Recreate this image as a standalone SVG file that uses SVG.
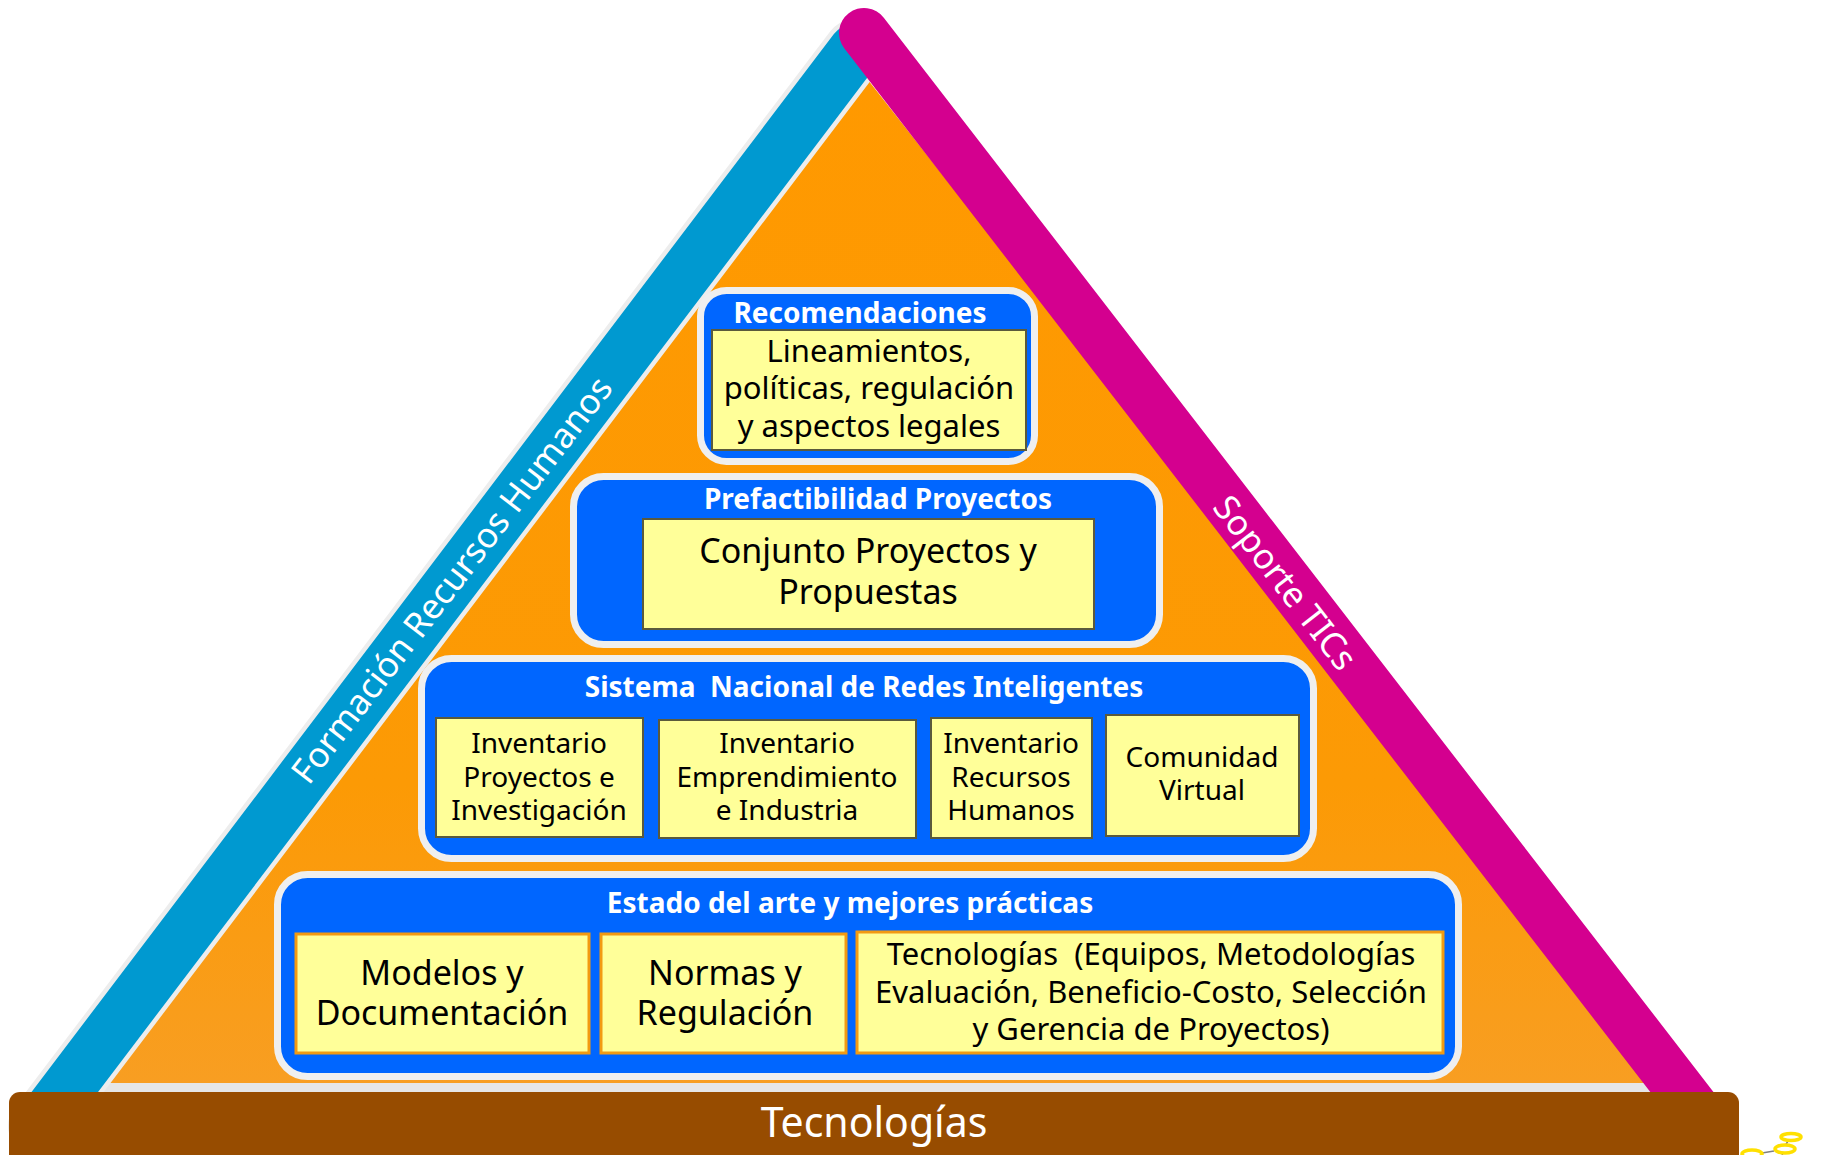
<svg xmlns="http://www.w3.org/2000/svg" width="1845" height="1155" viewBox="0 0 1845 1155">
<defs>
<linearGradient id="og" x1="0" y1="0" x2="0" y2="1">
<stop offset="0" stop-color="#FF9900"/>
<stop offset="0.7" stop-color="#FC9A05"/>
<stop offset="1" stop-color="#F89E22"/>
</linearGradient>
<style>
text{font-family:"Noto Sans","Open Sans","DejaVu Sans",sans-serif;text-anchor:middle;}
.tier{fill:#0066FF;stroke:#EFEFEF;stroke-width:7;}
.title{fill:#FFFFFF;font-weight:bold;font-size:28px;}
.box{fill:#FFFF99;stroke:#5A5A3C;stroke-width:2;}
.boxo{fill:#FFFF99;stroke:#F29A12;stroke-width:3;}
.t{fill:#000000;}
.side{fill:#FFFFFF;font-size:35px;}
.pre{white-space:pre;}
</style>
</defs>
<rect width="1845" height="1155" fill="#FFFFFF"/>
<g id="pyramid">
<polygon points="868,80 96,1086 1660,1086" fill="url(#og)"/>
<rect x="95" y="1083" width="1560" height="10" fill="#E6E6E6"/>
</g>
<g id="band-left">
<line x1="39" y1="1126" x2="855" y2="50" stroke="#EDEDED" stroke-width="62" stroke-linecap="round"/>
<line x1="39" y1="1126" x2="855" y2="50" stroke="#0099D0" stroke-width="53" stroke-linecap="round"/>
<text class="side" transform="translate(452,580) rotate(-52.5)" y="12">Formación Recursos Humanos</text>
</g>
<g id="band-right">
<line x1="864" y1="33" x2="1712" y2="1131" stroke="#D4008F" stroke-width="50" stroke-linecap="round"/>
<text class="side" transform="translate(1285,583) rotate(52.3)" y="12">Soporte TICs</text>
</g>
<g id="base">
<rect x="9" y="1092" width="1730" height="80" rx="11" fill="#974C00"/>
<text x="874" y="1137" font-size="41" fill="#FFFFFF">Tecnologías</text>
<g id="clipart-fragment" fill="#FFFFFF" stroke="#FFE000" stroke-width="3.5">
<line x1="1788" y1="1141" x2="1785" y2="1146" stroke="#808080" stroke-width="1.5"/>
<line x1="1762" y1="1153" x2="1774" y2="1151" stroke="#808080" stroke-width="1.5"/>
<line x1="1783" y1="1153" x2="1781" y2="1158" stroke="#808080" stroke-width="1.5"/>
<ellipse cx="1791" cy="1137" rx="10" ry="3.5"/>
<ellipse cx="1785" cy="1149" rx="10" ry="4"/>
<ellipse cx="1752" cy="1154" rx="10" ry="4"/>
</g>
</g>
<g id="tier-recomendaciones">
<rect class="tier" x="700.5" y="290.5" width="334" height="171" rx="26"/>
<text class="title" x="860" y="323">Recomendaciones</text>
<rect class="box" x="712" y="330" width="314" height="120"/>
<text class="t" font-size="31"><tspan x="869" y="362">Lineamientos,</tspan><tspan x="869" y="399">políticas, regulación</tspan><tspan x="869" y="437">y aspectos legales</tspan></text>
</g>
<g id="tier-prefactibilidad">
<rect class="tier" x="573.5" y="476.5" width="586" height="168" rx="30"/>
<text class="title" x="878" y="509">Prefactibilidad Proyectos</text>
<rect class="box" x="643" y="519" width="451" height="110"/>
<text class="t" font-size="34"><tspan x="868" y="563">Conjunto Proyectos y</tspan><tspan x="868" y="604">Propuestas</tspan></text>
</g>
<g id="tier-sistema">
<rect class="tier" x="421.5" y="658.5" width="892" height="200" rx="30"/>
<text class="title pre" x="864" y="697">Sistema  Nacional de Redes Inteligentes</text>
<g id="inv-proyectos">
<rect class="box" x="436" y="718" width="207" height="119"/>
<text class="t" font-size="28"><tspan x="539" y="753">Inventario</tspan><tspan x="539" y="787">Proyectos e</tspan><tspan x="539" y="820">Investigación</tspan></text>
</g>
<g id="inv-emprendimiento">
<rect class="box" x="659" y="720" width="257" height="118"/>
<text class="t" font-size="28"><tspan x="787" y="753">Inventario</tspan><tspan x="787" y="787">Emprendimiento</tspan><tspan x="787" y="820">e Industria</tspan></text>
</g>
<g id="inv-rrhh">
<rect class="box" x="931" y="718" width="161" height="120"/>
<text class="t" font-size="28"><tspan x="1011" y="753">Inventario</tspan><tspan x="1011" y="787">Recursos</tspan><tspan x="1011" y="820">Humanos</tspan></text>
</g>
<g id="comunidad">
<rect class="box" x="1106" y="715" width="193" height="121"/>
<text class="t" font-size="28"><tspan x="1202" y="767">Comunidad</tspan><tspan x="1202" y="800">Virtual</tspan></text>
</g>
</g>
<g id="tier-estado">
<rect class="tier" x="277.5" y="874.5" width="1181" height="202" rx="30"/>
<text class="title" x="850" y="913">Estado del arte y mejores prácticas</text>
<g id="modelos">
<rect class="boxo" x="296" y="934" width="293" height="119"/>
<text class="t" font-size="34"><tspan x="442" y="985">Modelos y</tspan><tspan x="442" y="1025">Documentación</tspan></text>
</g>
<g id="normas">
<rect class="boxo" x="601" y="934" width="245" height="119"/>
<text class="t" font-size="34"><tspan x="725" y="985">Normas y</tspan><tspan x="725" y="1025">Regulación</tspan></text>
</g>
<g id="tecnologias-box">
<rect class="boxo" x="857" y="932" width="586" height="121"/>
<text class="t pre" font-size="31"><tspan x="1151" y="965">Tecnologías  (Equipos, Metodologías</tspan><tspan x="1151" y="1003">Evaluación, Beneficio-Costo, Selección</tspan><tspan x="1151" y="1040">y Gerencia de Proyectos)</tspan></text>
</g>
</g>
</svg>
